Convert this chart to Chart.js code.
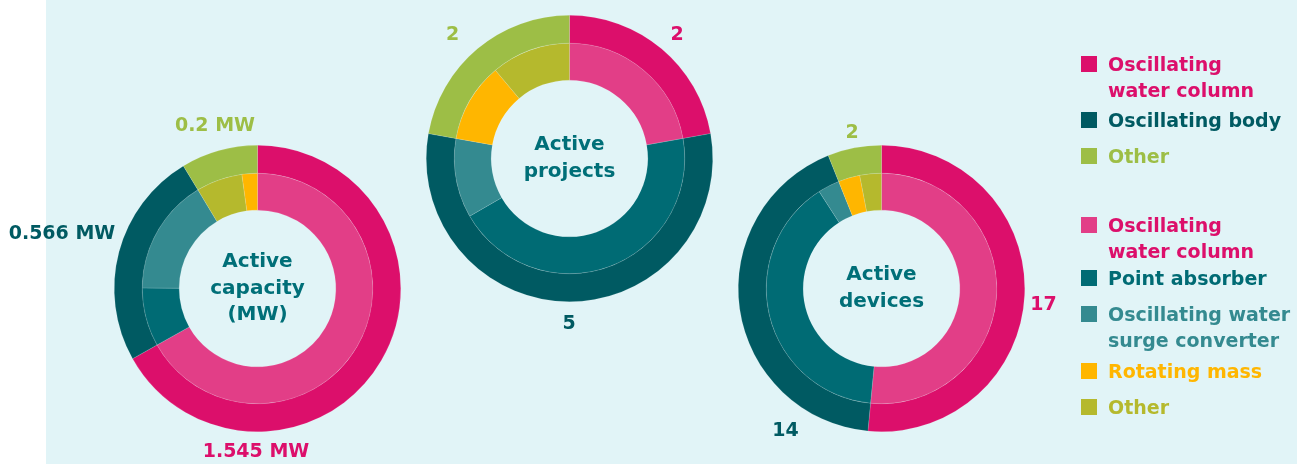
<!DOCTYPE html>
<html>
<head>
<meta charset="utf-8">
<script src="https://cdn.jsdelivr.net/npm/chart.js@4.4.1/dist/chart.umd.min.js"></script>
<style>
  html, body { margin: 0; padding: 0; width: 1297px; height: 464px; overflow: hidden; background: #fff; }
  #panel { position: absolute; left: 46px; top: 0; width: 1251px; height: 464px; background: #e1f4f7; }
  .ring { position: absolute; }
  .item { position: absolute; left: 1081px; font: bold 19px "DejaVu Sans", sans-serif; line-height: 26px; white-space: nowrap; }
  .item .sq { position: absolute; left: 0; top: 5px; width: 16px; height: 16px; }
  .item .tx { position: absolute; left: 27px; top: 0; }
</style>
</head>
<body>
<div id="panel"></div>

<script>
  // outer ring (main type) and inner ring (sub type)
  const outerCategories = ['Oscillating water column', 'Oscillating body', 'Other'];

  const capacityOuter = [1.545, 0.566, 0.2];
  const capacityInnerCategories = ['Oscillating water column', 'Point absorber', 'Oscillating water surge converter', 'Other', 'Rotating mass'];
  const capacityInner = [1.545, 0.19, 0.376, 0.15, 0.05];
  const capacityLabels = ['1.545 MW', '0.566 MW', '0.2 MW'];

  const projectsOuter = [2, 5, 2];
  const projectsInnerCategories = ['Oscillating water column', 'Point absorber', 'Oscillating water surge converter', 'Rotating mass', 'Other'];
  const projectsInner = [2, 4, 1, 1, 1];
  const projectsLabels = ['2', '5', '2'];

  const devicesOuter = [17, 14, 2];
  const devicesInnerCategories = ['Oscillating water column', 'Point absorber', 'Oscillating water surge converter', 'Rotating mass', 'Other'];
  const devicesInner = [17, 13, 1, 1, 1];
  const devicesLabels = ['17', '14', '2'];

  const legendMain = ['Oscillating\nwater column', 'Oscillating body', 'Other'];
  const legendSub = ['Oscillating\nwater column', 'Point absorber', 'Oscillating water\nsurge converter', 'Rotating mass', 'Other'];

  const C = {
    owc: '#dc0f6b',
    owcLight: '#e23e87',
    body: '#005a62',
    point: '#006b74',
    surge: '#348a90',
    rotating: '#ffb600',
    other: '#9dbe46',
    otherInner: '#b5b92d',
    text: '#006f78'
  };
  const innerColor = {
    'Oscillating water column': C.owcLight,
    'Point absorber': C.point,
    'Oscillating water surge converter': C.surge,
    'Rotating mass': C.rotating,
    'Other': C.otherInner
  };
  const outerColors = [C.owc, C.body, C.other];
  const FONT = '"DejaVu Sans", sans-serif';

  const ringText = {
    id: 'ringText',
    afterDraw(chart) {
      const o = chart.options.plugins.ringText;
      if (!o) return;
      const ctx = chart.ctx;
      const a = chart.chartArea;
      const cx = (a.left + a.right) / 2;
      const cy = (a.top + a.bottom) / 2;
      ctx.save();
      ctx.textAlign = 'center';
      ctx.textBaseline = 'middle';
      ctx.font = 'bold 20px ' + FONT;
      ctx.fillStyle = C.text;
      const n = o.center.length;
      o.center.forEach((line, i) => {
        ctx.fillText(line, cx, cy + (i - (n - 1) / 2) * 26.5);
      });
      ctx.font = 'bold 19px ' + FONT;
      o.values.forEach((t, i) => {
        ctx.fillStyle = outerColors[i];
        ctx.fillText(t, cx + o.offsets[i][0], cy + o.offsets[i][1]);
      });
      ctx.restore();
    }
  };

  const R = 143.5;
  const PAD = 260;

  function makeRing(cx, cy, innerCats, outerData, innerData, centerLines, valueLabels, offsets) {
    const size = 2 * (R + PAD);
    const box = document.createElement('div');
    box.className = 'ring';
    box.style.left = (cx - size / 2) + 'px';
    box.style.top = (cy - size / 2) + 'px';
    box.style.width = size + 'px';
    box.style.height = size + 'px';
    const cv = document.createElement('canvas');
    box.appendChild(cv);
    document.body.appendChild(box);

    new Chart(cv, {
      type: 'doughnut',
      data: {
        labels: innerCats,
        datasets: [
          { label: 'main', data: outerData, backgroundColor: outerColors, weight: 28,
            borderWidth: 0.5, borderColor: 'rgba(255,255,255,0.25)' },
          { label: 'sub', data: innerData, backgroundColor: innerCats.map((c) => innerColor[c]), weight: 37,
            borderWidth: 0.5, borderColor: 'rgba(255,255,255,0.25)' }
        ]
      },
      options: {
        responsive: true,
        maintainAspectRatio: false,
        animation: false,
        cutout: (78.5 / 143.5 * 100) + '%',
        layout: { padding: PAD },
        events: [],
        plugins: {
          legend: { display: false },
          tooltip: { enabled: false },
          ringText: { center: centerLines, values: valueLabels, offsets: offsets }
        }
      },
      plugins: [ringText]
    });
  }

  makeRing(257.5, 288.5, capacityInnerCategories, capacityOuter, capacityInner,
    ['Active', 'capacity', '(MW)'], capacityLabels, [[-1.5, 163.5], [-195.5, -54], [-42.5, -162]]);
  makeRing(569.5, 158.5, projectsInnerCategories, projectsOuter, projectsInner,
    ['Active', 'projects'], projectsLabels, [[107.5, -123], [-0.5, 165.5], [-117, -123]]);
  makeRing(881, 288.5, devicesInnerCategories, devicesOuter, devicesInner,
    ['Active', 'devices'], devicesLabels, [[162, 17], [-96, 143], [-29.5, -155.5]]);

  // legend
  const legendTops = [51, 107, 143, 212, 265, 301, 358, 394];
  const legendItems = [
    ...legendMain.map((t, i) => ({ text: t, sq: outerColors[i], color: outerColors[i] })),
    ...legendSub.map((t) => {
      const key = t.replace('\n', ' ');
      const sq = innerColor[key];
      return { text: t, sq: sq, color: key === 'Oscillating water column' ? C.owc : sq };
    })
  ];
  legendItems.forEach((it, i) => {
    const el = document.createElement('div');
    el.className = 'item';
    el.style.top = legendTops[i] + 'px';
    const sq = document.createElement('div');
    sq.className = 'sq';
    sq.style.background = it.sq;
    const tx = document.createElement('div');
    tx.className = 'tx';
    tx.style.color = it.color;
    tx.innerHTML = it.text.split('\n').join('<br>');
    el.appendChild(sq);
    el.appendChild(tx);
    document.body.appendChild(el);
  });
</script>
</body>
</html>
